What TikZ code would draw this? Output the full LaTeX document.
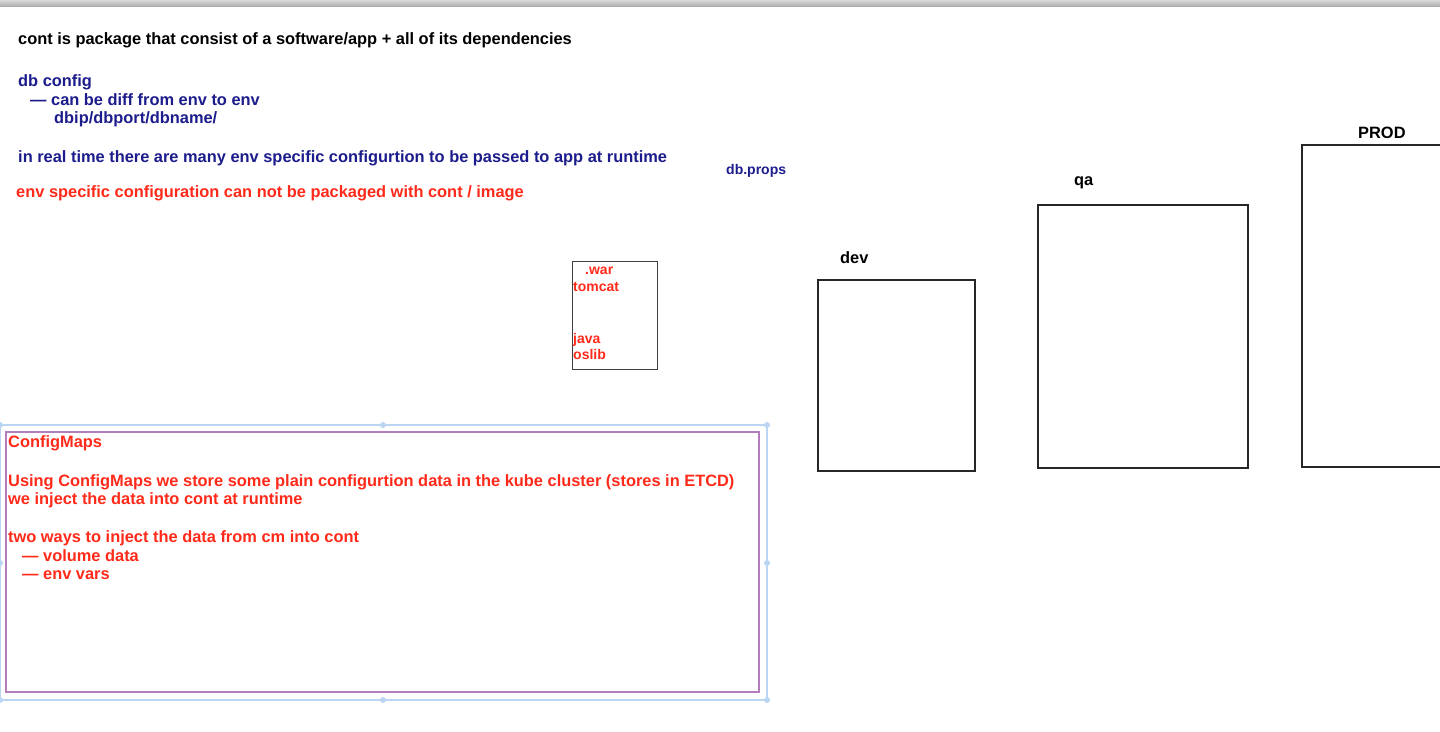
\documentclass[tikz,border=0pt]{standalone}
\usepackage{fontspec}
\setmainfont{Liberation Sans}
\definecolor{navy}{HTML}{1C1C8C}
\definecolor{redtxt}{HTML}{FF2A1A}
\definecolor{purp}{HTML}{B47EBE}
\definecolor{selblue}{HTML}{BBD6F2}
\tikzset{
  txt/.style={anchor=base west, inner sep=0pt, font=\bfseries\fontsize{16.4}{19}\selectfont},
  smalltxt/.style={anchor=base west, inner sep=0pt, font=\bfseries\fontsize{14}{16}\selectfont},
  envbox/.style={draw=black!85, line width=1.8pt},
  handle/.style={circle, fill=selblue, inner sep=0pt, minimum size=6pt}
}
\begin{document}
\begin{tikzpicture}[x=1pt,y=-1pt]
\useasboundingbox (0,0) rectangle (1440,731);
\clip (0,0) rectangle (1440,731);
\fill[white] (0,0) rectangle (1440,731);
% top bar
\shade[top color=black!15, bottom color=black!33] (0,0) rectangle (1440,6.5);

% header texts
\node[txt, text=black] (t1) at (18,44) {cont is package that consist of a software/app + all of its dependencies};
\node[txt, text=navy] (db1) at (18,86) {db config};
\node[txt, text=navy] (db2) at (30,105) {— can be diff from env to env};
\node[txt, text=navy] (db3) at (54,123) {dbip/dbport/dbname/};
\node[txt, text=navy] (t3) at (18,162) {in real time there are many env specific configurtion to be passed to app at runtime};
\node[txt, text=redtxt] (t4) at (16,197) {env specific configuration can not be packaged with cont / image};
\node[smalltxt, text=navy] (dbp) at (726,174) {db.props};

% small container box
\draw[black!75, line width=1pt] (572,261) rectangle (657,369);
\node[smalltxt, text=redtxt] (war) at (585,274) {.war};
\node[smalltxt, text=redtxt] (tom) at (573,291) {tomcat};
\node[smalltxt, text=redtxt] (jav) at (573,343) {java};
\node[smalltxt, text=redtxt] (osl) at (573,359) {oslib};

% env boxes
\draw[envbox] (818,280) rectangle (975,471);
\node[txt] (dev) at (840,263) {dev};
\draw[envbox] (1038,205) rectangle (1248,468);
\node[txt] (qa) at (1074,185) {qa};
\draw[envbox] (1302,145) rectangle (1450,467);
\node[txt] (prod) at (1358,138) {PROD};

% ConfigMaps selection frame
\draw[selblue, line width=1.2pt] (0,425) rectangle (767,700);
\foreach \p in {(0,425),(383,425),(767,425),(0,563),(767,563),(0,700),(383,700),(767,700)}
  \node[handle] at \p {};
\draw[purp, line width=1.2pt] (6,432) rectangle (759,692);
\node[txt, text=redtxt] (cm1) at (8,447) {ConfigMaps};
\node[txt, text=redtxt] (cm2) at (8,486) {Using ConfigMaps we store some plain configurtion data in the kube cluster (stores in ETCD)};
\node[txt, text=redtxt] (cm3) at (8,504) {we inject the data into cont at runtime};
\node[txt, text=redtxt] (cm4) at (8,542) {two ways to inject the data from cm into cont};
\node[txt, text=redtxt] (cm5) at (22,561) {— volume data};
\node[txt, text=redtxt] (cm6) at (22,579) {— env vars};
\end{tikzpicture}
\end{document}
